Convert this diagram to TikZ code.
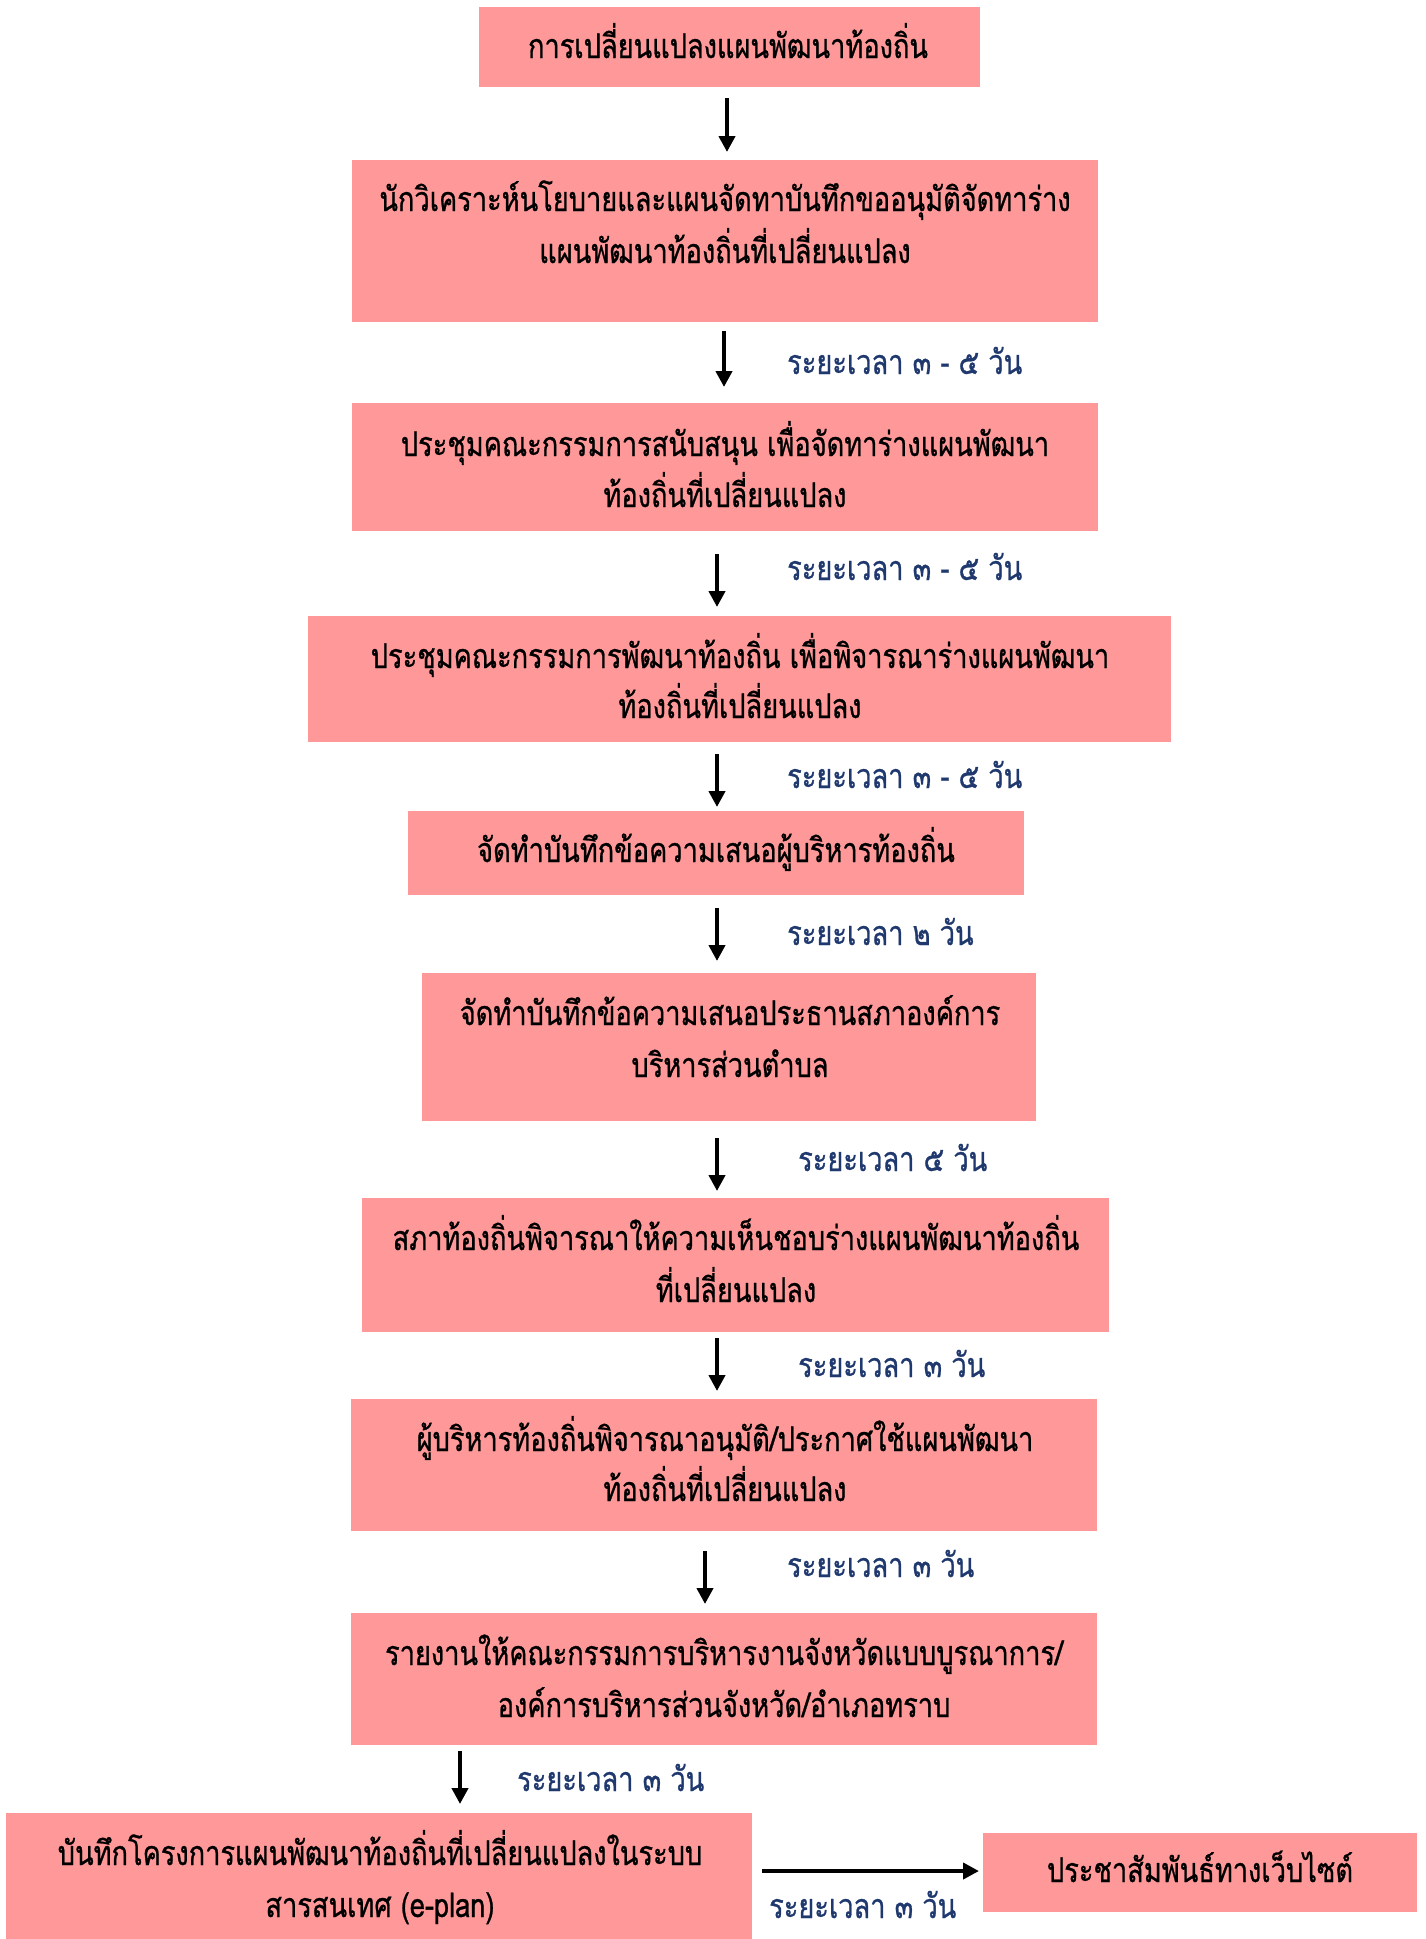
\documentclass[tikz,border=0pt]{standalone}
\usepackage{fontspec}
\usetikzlibrary{arrows.meta}
\newfontfamily\thai[Script=Thai,FakeStretch=0.8,FakeBold=0.8]{Loma}
\definecolor{boxfill}{RGB}{255,153,153}
\definecolor{navy}{RGB}{31,56,110}
\tikzset{
  box/.style={fill=boxfill, draw=none, inner sep=0pt, rectangle},
  txt/.style={anchor=base, inner sep=0pt, font=\thai\fontsize{34}{40}\selectfont},
  lbl/.style={anchor=base west, inner sep=0pt, text=navy, font=\thai\fontsize{34}{40}\selectfont},
  arr/.style={line width=4pt, -{Triangle[length=16pt,width=16pt]}},
  harr/.style={line width=4.5pt, -{Triangle[length=16pt,width=16pt]}}
}
\begin{document}
\begin{tikzpicture}[x=1pt,y=-1pt]
\useasboundingbox (0,0) rectangle (1426,1939);
% boxes
\node[box, minimum width=501pt, minimum height=80pt] (b1) at (729.5,47) {};
\node[box, minimum width=746pt, minimum height=162pt] (b2) at (725,241) {};
\node[box, minimum width=746pt, minimum height=128pt] (b3) at (725,467) {};
\node[box, minimum width=863pt, minimum height=126pt] (b4) at (739.5,679) {};
\node[box, minimum width=616pt, minimum height=84pt] (b5) at (716,853) {};
\node[box, minimum width=614pt, minimum height=148pt] (b6) at (729,1047) {};
\node[box, minimum width=747pt, minimum height=134pt] (b7) at (735.5,1265) {};
\node[box, minimum width=746pt, minimum height=132pt] (b8) at (724,1465) {};
\node[box, minimum width=746pt, minimum height=132pt] (b9) at (724,1679) {};
\node[box, minimum width=746pt, minimum height=132pt] (b10) at (379,1879) {};
\node[box, minimum width=434pt, minimum height=79pt] (b11) at (1200,1872.5) {};
% texts
\node[txt] (t1) at (728,58) {การเปลี่ยนแปลงแผนพัฒนาท้องถิ่น};
\node[txt] (t2a) at (725,211) {นักวิเคราะห์นโยบายและแผนจัดทาบันทึกขออนุมัติจัดทาร่าง};
\node[txt] (t2b) at (725,263) {แผนพัฒนาท้องถิ่นที่เปลี่ยนแปลง};
\node[txt] (t3a) at (725,456) {ประชุมคณะกรรมการสนับสนุน เพื่อจัดทาร่างแผนพัฒนา};
\node[txt] (t3b) at (725,507) {ท้องถิ่นที่เปลี่ยนแปลง};
\node[txt] (t4a) at (740,668) {ประชุมคณะกรรมการพัฒนาท้องถิ่น เพื่อพิจารณาร่างแผนพัฒนา};
\node[txt] (t4b) at (740,718) {ท้องถิ่นที่เปลี่ยนแปลง};
\node[txt] (t5) at (716,862) {จัดทำบันทึกข้อความเสนอผู้บริหารท้องถิ่น};
\node[txt] (t6a) at (730,1025) {จัดทำบันทึกข้อความเสนอประธานสภาองค์การ};
\node[txt] (t6b) at (730,1077) {บริหารส่วนตำบล};
\node[txt] (t7a) at (736,1250) {สภาท้องถิ่นพิจารณาให้ความเห็นชอบร่างแผนพัฒนาท้องถิ่น};
\node[txt] (t7b) at (736,1302) {ที่เปลี่ยนแปลง};
\node[txt] (t8a) at (725,1451) {ผู้บริหารท้องถิ่นพิจารณาอนุมัติ/ประกาศใช้แผนพัฒนา};
\node[txt] (t8b) at (725,1501) {ท้องถิ่นที่เปลี่ยนแปลง};
\node[txt] (t9a) at (724,1665) {รายงานให้คณะกรรมการบริหารงานจังหวัดแบบบูรณาการ/};
\node[txt] (t9b) at (724,1717) {องค์การบริหารส่วนจังหวัด/อำเภอทราบ};
\node[txt] (t10a) at (380,1865) {บันทึกโครงการแผนพัฒนาท้องถิ่นที่เปลี่ยนแปลงในระบบ};
\node[txt] (t10b) at (380,1917) {สารสนเทศ (e-plan)};
\node[txt] (t11) at (1200,1882) {ประชาสัมพันธ์ทางเว็บไซต์};
% labels
\node[lbl] (l2) at (787,374) {ระยะเวลา ๓ - ๕ วัน};
\node[lbl] (l3) at (787,580) {ระยะเวลา ๓ - ๕ วัน};
\node[lbl] (l4) at (787,788) {ระยะเวลา ๓ - ๕ วัน};
\node[lbl] (l5) at (787,945) {ระยะเวลา ๒ วัน};
\node[lbl] (l6) at (798,1171) {ระยะเวลา ๕ วัน};
\node[lbl] (l7) at (798,1377) {ระยะเวลา ๓ วัน};
\node[lbl] (l8) at (787,1577) {ระยะเวลา ๓ วัน};
\node[lbl] (l9) at (517,1791) {ระยะเวลา ๓ วัน};
\node[lbl] (l10) at (769,1918) {ระยะเวลา ๓ วัน};
% arrow end points
\coordinate (a1s) at (727,98);  \coordinate (a1e) at (727,152);
\coordinate (a2s) at (724,331); \coordinate (a2e) at (724,387);
\coordinate (a3s) at (717,554); \coordinate (a3e) at (717,607);
\coordinate (a4s) at (717,754); \coordinate (a4e) at (717,807);
\coordinate (a5s) at (717,908); \coordinate (a5e) at (717,961);
\coordinate (a6s) at (717,1138); \coordinate (a6e) at (717,1191);
\coordinate (a7s) at (717,1338); \coordinate (a7e) at (717,1391);
\coordinate (a8s) at (705,1551); \coordinate (a8e) at (705,1604);
\coordinate (a9s) at (460,1751); \coordinate (a9e) at (460,1804);
\coordinate (hs) at (762,1871); \coordinate (he) at (979,1871);
\draw[arr] (a1s) -- (a1e);
\draw[arr] (a2s) -- (a2e);
\draw[arr] (a3s) -- (a3e);
\draw[arr] (a4s) -- (a4e);
\draw[arr] (a5s) -- (a5e);
\draw[arr] (a6s) -- (a6e);
\draw[arr] (a7s) -- (a7e);
\draw[arr] (a8s) -- (a8e);
\draw[arr] (a9s) -- (a9e);
\draw[harr] (hs) -- (he);
\end{tikzpicture}
\end{document}
